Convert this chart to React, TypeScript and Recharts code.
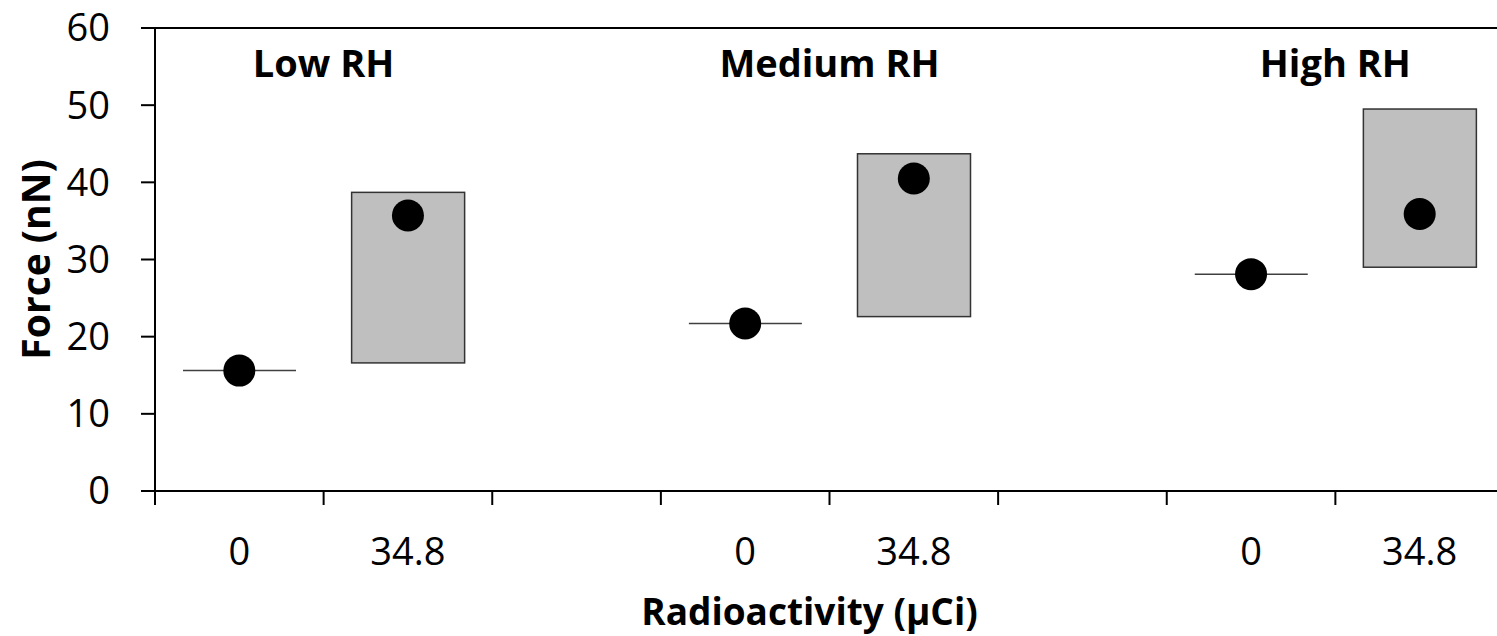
import React from "react";
import {
  ComposedChart,
  Bar,
  Line,
  XAxis,
  YAxis,
  ReferenceLine,
  ReferenceDot,
} from "recharts";

// humidity groups, each with a control (0 µCi) and an exposed (34.8 µCi) column
const groups = ["Low RH", "Medium RH", "High RH"];
const doses = ["0", "34.8"];

// mean force (nN)
const controlMean = [15.6, 21.7, 28.1];
const exposedMean = [35.7, 40.5, 35.9];

// spread of the exposed samples (nN)
const exposedLow = [16.6, 22.6, 29.0];
const exposedHigh = [38.7, 43.7, 49.5];

const yTicks = [0, 10, 20, 30, 40, 50, 60];

const CHART_W = 1512;
const CHART_H = 636;
const MARGIN = { top: 28, right: 8, left: 0, bottom: 45 };
const Y_AXIS_W = 155;
const X_AXIS_H = 100;
const TICK_LEN = 14;
const FONT = "'Open Sans', sans-serif";
const TITLE_LEVEL = 53.6;

type Row = {
  slot: string;
  dose: string;
  mean?: number;
  range?: [number, number];
};

// one spacer column between groups
const rows: Row[] = [];
groups.forEach((g, i) => {
  rows.push({
    slot: `${g}-${doses[0]}`,
    dose: doses[0],
    mean: controlMean[i],
    range: [controlMean[i], controlMean[i]],
  });
  rows.push({
    slot: `${g}-${doses[1]}`,
    dose: doses[1],
    mean: exposedMean[i],
    range: [exposedLow[i], exposedHigh[i]],
  });
  if (i < groups.length - 1) rows.push({ slot: `gap-${i}`, dose: "" });
});

const PLOT_W = CHART_W - MARGIN.left - MARGIN.right - Y_AXIS_W;
const BAND = PLOT_W / rows.length;

// x ticks sit on the column edges, labels in the middle of the column
const DoseTick = (props: any) => {
  const { x, y, payload } = props;
  const row = rows[payload.index];
  const edge = x - BAND / 2;
  return (
    <g>
      <line x1={edge} x2={edge} y1={y - TICK_LEN} y2={y} stroke="#000" strokeWidth={2} />
      {row && row.dose ? (
        <text x={x} y={y + 60} textAnchor="middle" fontSize={38} fill="#000" fontFamily={FONT}>
          {row.dose}
        </text>
      ) : null}
    </g>
  );
};

// grey box for a spread, a flat line when there is only one value
const RangeShape = (props: any) => {
  const { x, y, width, height, payload } = props;
  if (!payload || !payload.range) return null;
  if (payload.range[0] === payload.range[1]) {
    return <line x1={x} x2={x + width} y1={y} y2={y} stroke="#404040" strokeWidth={1.5} />;
  }
  return (
    <rect x={x} y={y} width={width} height={height} fill="#bfbfbf" stroke="#333" strokeWidth={1.5} />
  );
};

const GroupTitle = (title: string) => (props: any) => {
  const { viewBox } = props;
  return (
    <text
      x={viewBox.x + BAND / 2}
      y={viewBox.y}
      textAnchor="middle"
      fontSize={38}
      fontWeight="bold"
      fill="#000"
      fontFamily={FONT}
    >
      {title}
    </text>
  );
};

export default function App() {
  return (
    <div style={{ position: "absolute", left: 0, top: 0, width: 1497, height: CHART_H, overflow: "hidden", background: "#fff" }}>
      <ComposedChart width={CHART_W} height={CHART_H} data={rows} margin={MARGIN} style={{ fontFamily: FONT }}>
        <XAxis
          dataKey="slot"
          height={X_AXIS_H}
          interval={0}
          tickLine={false}
          tickSize={TICK_LEN}
          tickMargin={0}
          tick={<DoseTick />}
          axisLine={{ stroke: "#000", strokeWidth: 2 }}
          label={{
            content: (p: any) => (
              <text
                x={p.viewBox.x + p.viewBox.width / 2 - 20}
                y={p.viewBox.y + 134}
                textAnchor="middle"
                fontSize={37}
                fontWeight="bold"
                fill="#000"
                fontFamily={FONT}
              >
                Radioactivity (µCi)
              </text>
            ),
          }}
        />
        <YAxis
          width={Y_AXIS_W}
          domain={[0, 60]}
          ticks={yTicks}
          interval={0}
          tickSize={TICK_LEN}
          tickMargin={31}
          tick={{ fill: "#000", fontSize: 38, fontFamily: FONT }}
          tickLine={{ stroke: "#000", strokeWidth: 2 }}
          axisLine={{ stroke: "#000", strokeWidth: 2 }}
          label={{
            content: (p: any) => (
              <text
                transform={`translate(50, ${p.viewBox.y + p.viewBox.height / 2}) rotate(-90)`}
                textAnchor="middle"
                fontSize={39}
                fontWeight="bold"
                fill="#000"
                fontFamily={FONT}
              >
                Force (nN)
              </text>
            ),
          }}
        />
        <ReferenceLine y={60} stroke="#000" strokeWidth={2} />
        {groups.map((g) => (
          <ReferenceDot
            key={g}
            x={`${g}-${doses[0]}`}
            y={TITLE_LEVEL}
            r={0}
            fill="none"
            stroke="none"
            ifOverflow="visible"
            label={{ content: GroupTitle(g) }}
          />
        ))}
        <Bar dataKey="range" barSize={113} shape={<RangeShape />} isAnimationActive={false} />
        <Line
          dataKey="mean"
          stroke="none"
          dot={{ r: 16, fill: "#000", stroke: "none" }}
          activeDot={false}
          isAnimationActive={false}
        />
      </ComposedChart>
    </div>
  );
}
